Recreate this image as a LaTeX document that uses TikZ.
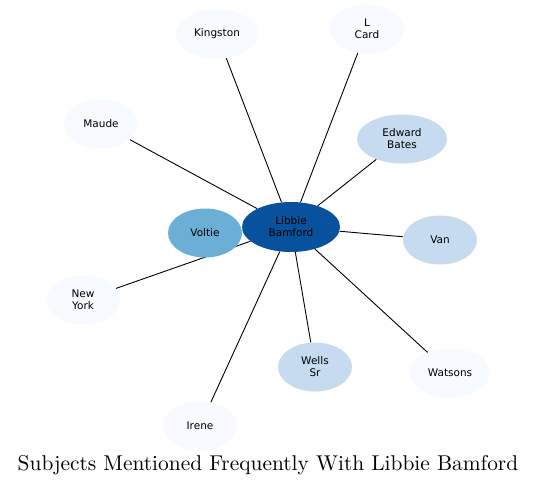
\documentclass[tikz,border=0pt]{standalone}
\usepackage{fontspec}
\newfontfamily\labelfont{DejaVu Sans}
\newfontfamily\titlefont{lmroman10-regular.otf}
\usetikzlibrary{shapes.geometric, backgrounds}

\definecolor{hubblue}{HTML}{08519C}
\definecolor{midblue}{HTML}{6BAED6}
\definecolor{softblue}{HTML}{C6DBEF}
\definecolor{paleblue}{HTML}{F7FBFF}

\begin{document}
\begin{tikzpicture}[
    x=1pt, y=-1pt,
    person/.style={
        ellipse, draw=none, inner sep=0pt,
        minimum width=74pt, minimum height=49pt,
        align=center, font=\labelfont\fontsize{10.5}{12}\selectfont
    },
    rare/.style={person, fill=paleblue},
    often/.style={person, fill=softblue},
    link/.style={draw=black, line width=0.9pt}
]
\useasboundingbox (0,0) rectangle (537,486);

\node[person, fill=hubblue, minimum width=98pt, minimum height=50pt] (libbie) at (291,227) {Libbie\\Bamford};
\node[person, fill=midblue] (voltie) at (205,233) {Voltie};

\node[rare, minimum width=82pt] (kingston) at (217,34) {Kingston};
\node[rare] (lcard) at (367,29) {L\\Card};
\node[rare] (maude) at (101,124) {Maude};
\node[often, minimum width=90pt] (edward) at (402,139) {Edward\\Bates};
\node[often] (van) at (440,240) {Van};
\node[rare] (newyork) at (83,300) {New\\York};
\node[often] (wells) at (315,367) {Wells\\Sr};
\node[rare, minimum width=80pt] (watsons) at (450,373) {Watsons};
\node[rare] (irene) at (200,426) {Irene};

\node[font=\titlefont\fontsize{21.4}{26}\selectfont] (title) at (268,465) {Subjects Mentioned Frequently With Libbie Bamford};

\begin{pgfonlayer}{background}
\foreach \other in {kingston, lcard, maude, edward, van, newyork, wells, watsons, irene, voltie}
    \draw[link] (libbie) -- (\other);
\end{pgfonlayer}

\end{tikzpicture}
\end{document}
